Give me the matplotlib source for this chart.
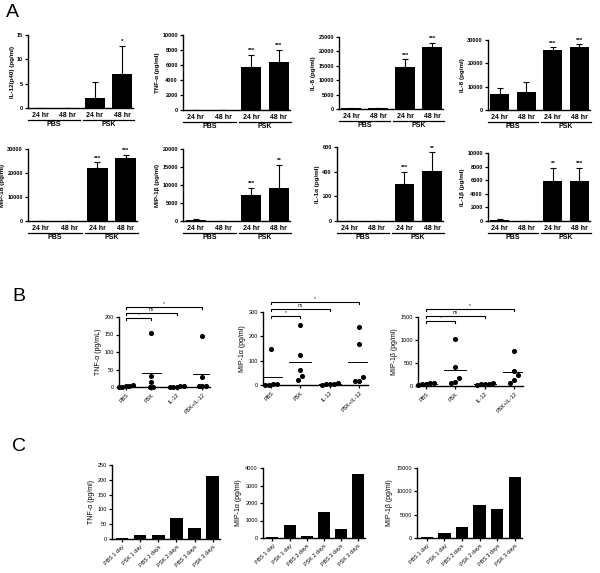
import numpy as np
import matplotlib
matplotlib.use("Agg")
import matplotlib.pyplot as plt
from matplotlib.transforms import blended_transform_factory, ScaledTranslation

plt.rcParams['font.family'] = ['Liberation Sans', 'DejaVu Sans']

# ---------------- data ----------------
# panel A: 24 hr / 48 hr for PBS and PSK
a_ticks = ['24 hr', '48 hr', '24 hr', '48 hr']
a_groups = ['PBS', 'PSK']

il12_mean = [0, 0, 2.1, 6.9]
il12_err = [0, 0, 3.3, 5.9]
tnf_mean = [30, 30, 5700, 6400]
tnf_err = [0, 0, 1650, 1650]
il6_mean = [200, 200, 14500, 21500]
il6_err = [0, 0, 2700, 1500]
il8_mean = [7000, 7900, 25700, 27200]
il8_err = [2600, 4300, 1300, 1000]
mip1a_mean = [50, 50, 22000, 26300]
mip1a_err = [0, 0, 2500, 1400]
mip1b_mean = [300, 100, 7200, 9100]
mip1b_err = [150, 0, 2100, 6500]
il1a_mean = [0, 0, 300, 405]
il1a_err = [0, 0, 100, 155]
il1b_mean = [150, 0, 5900, 5950]
il1b_err = [200, 0, 1950, 1900]

il12_sig = ['', '', '', '*']
tnf_sig = ['', '', '***', '***']
il6_sig = ['', '', '***', '***']
il8_sig = ['', '', '***', '***']
mip1a_sig = ['', '', '***', '***']
mip1b_sig = ['', '', '***', '**']
il1a_sig = ['', '', '***', '**']
il1b_sig = ['', '', '**', '***']

# panel B: individual values
b_groups = ['PBS', 'PSK', 'IL-12', 'PSK+IL-12']
b_pairs = [(0, 1), (0, 2), (0, 3)]
b_pair_labels = ['*', 'ns', '*']

b_tnf = [[0, 1, 2, 3, 5], [155, 32, 14, 1, 1], [0, 1, 1, 2, 3], [145, 30, 3, 2, 3]]
b_mip1a = [[150, 2, 3, 5, 2], [245, 122, 60, 35, 20], [3, 5, 8, 2, 6], [237, 168, 32, 18, 16]]
b_mip1b = [[60, 40, 50, 30, 70], [1020, 410, 170, 60, 90], [40, 50, 55, 30, 45],
           [770, 330, 230, 140, 60]]

# panel C: time course
c_labels = ['PBS 1 day', 'PSK 1 day', 'PBS 2 days', 'PSK 2 days', 'PBS 3 days', 'PSK 3 days']
c_tnf = [2, 14, 15, 70, 38, 212]
c_mip1a = [50, 750, 120, 1480, 500, 3680]
c_mip1b = [200, 1000, 2300, 7100, 6300, 13100]

W, H = 600, 573
fig = plt.figure(figsize=(6.0, 5.73), dpi=100)


def add_ax(l, t, r, b):
    ax = fig.add_axes([l / W, 1 - b / H, (r - l) / W, (b - t) / H])
    for s in ['top', 'right']:
        ax.spines[s].set_visible(False)
    for s in ['left', 'bottom']:
        ax.spines[s].set_linewidth(1.0)
    ax.tick_params(direction='out', length=2.5, width=0.9, labelsize=4, pad=1.2)
    return ax


def below(ax, px):
    return blended_transform_factory(ax.transData, ax.transAxes) + \
        ScaledTranslation(0, -px / 100, fig.dpi_scale_trans)


def panel_a(box, mean, err, sig, ylabel, ymax, step):
    ax = add_ax(*box)
    x = np.arange(4)
    ax.bar(x, mean, width=0.72, color='black')
    lower = np.zeros(4)
    ax.errorbar(x, mean, yerr=[lower, err], fmt='none', ecolor='black',
                elinewidth=0.8, capsize=2.5, capthick=0.8)
    for xi, m, e, s in zip(x, mean, err, sig):
        if s:
            ax.text(xi, m + e + ymax * 0.02, s, ha='center', va='bottom',
                    fontsize=4.5, fontweight='bold')
    ax.set_xlim(-0.45, 3.4)
    ax.set_ylim(0, ymax)
    ax.set_yticks(np.arange(0, ymax + 1e-9, step))
    ax.set_xticks([])
    ax.set_ylabel(ylabel, fontsize=4.5, fontweight='bold', labelpad=1.5)
    for lab in ax.get_yticklabels():
        lab.set_fontweight('bold')
    for xi, t in zip(x, a_ticks):
        ax.text(xi, 0, t, transform=below(ax, 4), ha='center', va='top',
                fontsize=5, fontweight='bold')
    for gi, g in enumerate(a_groups):
        x0, x1 = 2 * gi - 0.45, 2 * gi + 1.45
        ax.plot([x0, x1], [0, 0], transform=below(ax, 12), color='black',
                lw=0.9, clip_on=False)
        ax.text(2 * gi + 0.5, 0, g, transform=below(ax, 13), ha='center',
                va='top', fontsize=5, fontweight='bold')
    return ax


panel_a((28, 35, 133, 108), il12_mean, il12_err, il12_sig, 'IL-12(p40) (pg/ml)', 15, 5)
panel_a((183, 35, 290, 110), tnf_mean, tnf_err, tnf_sig, 'TNF-α (pg/ml)', 10000, 2000)
panel_a((339, 37, 443, 109), il6_mean, il6_err, il6_sig, 'IL-6 (pg/ml)', 25000, 5000)
panel_a((488, 40, 590, 110), il8_mean, il8_err, il8_sig, 'IL-8 (pg/ml)', 30000, 10000)
panel_a((28, 149, 137, 221), mip1a_mean, mip1a_err, mip1a_sig, 'MIP-1α (pg/ml)', 30000, 10000)
panel_a((183, 149, 290, 221), mip1b_mean, mip1b_err, mip1b_sig, 'MIP-1β (pg/ml)', 20000, 5000)
panel_a((337, 147, 443, 221), il1a_mean, il1a_err, il1a_sig, 'IL-1α (pg/ml)', 600, 200)
panel_a((488, 153, 590, 221), il1b_mean, il1b_err, il1b_sig, 'IL-1β (pg/ml)', 10000, 2000)


def spread(vals, tol):
    # horizontal offsets for points that sit close together
    vals = np.asarray(vals, float)
    order = np.argsort(vals)
    offs = np.zeros(len(vals))
    groups, cur = [], [order[0]]
    for i in order[1:]:
        if vals[i] - vals[cur[-1]] <= tol:
            cur.append(i)
        else:
            groups.append(cur)
            cur = [i]
    groups.append(cur)
    for g in groups:
        n = len(g)
        o = (np.arange(n) - (n - 1) / 2) * 0.14
        for k, i in enumerate(g):
            offs[i] = o[k]
    return offs


def panel_b(box, data, ylabel, ymax, step, brk):
    ax = add_ax(*box)
    for xi, vals in enumerate(data):
        offs = spread(vals, ymax * 0.06)
        ax.scatter(xi + offs, vals, s=7, color='black', zorder=3, clip_on=False)
        ax.plot([xi - 0.37, xi + 0.37], [np.mean(vals)] * 2, color='black', lw=0.7)
    ax.set_xlim(-0.27, 3.3)
    ax.set_ylim(0, ymax)
    ax.set_yticks(np.arange(0, ymax + 1e-9, step))
    ax.set_xticks(range(4))
    ax.set_xticklabels(b_groups, rotation=45, ha='right', rotation_mode='anchor')
    ax.set_ylabel(ylabel, fontsize=5, labelpad=2)
    for (i, j), lab, yb in zip(b_pairs, b_pair_labels, brk):
        d = ymax * 0.03
        ax.plot([i, i, j, j], [yb - d, yb, yb, yb - d], color='black', lw=0.8,
                clip_on=False)
        ax.text((i + j) / 2, yb + ymax * 0.01, lab, ha='center', va='bottom',
                fontsize=3.5)
    return ax


panel_b((119, 317, 210, 387), b_tnf, 'TNF-α (pg/mL)', 200, 50, [197, 211, 229])
panel_b((263, 312, 368, 385), b_mip1a, 'MIP-1α (pg/ml)', 300, 100, [284, 313, 342])
panel_b((418, 317, 523, 386), b_mip1b, 'MIP-1β (pg/ml)', 1500, 500, [1420, 1530, 1670])


def panel_c(box, vals, ylabel, ymax, step):
    ax = add_ax(*box)
    x = np.arange(len(vals))
    ax.bar(x, vals, width=0.7, color='black')
    ax.set_xlim(-0.55, 5.4)
    ax.set_ylim(0, ymax)
    ax.set_yticks(np.arange(0, ymax + 1e-9, step))
    ax.set_xticks(x)
    ax.set_xticklabels(c_labels, rotation=45, ha='right', rotation_mode='anchor')
    ax.set_ylabel(ylabel, fontsize=5, labelpad=2)
    return ax


panel_c((112, 465, 220, 539), c_tnf, 'TNF-α (pg/ml)', 250, 50)
panel_c((263, 468, 365, 538), c_mip1a, 'MIP-1α (pg/ml)', 4000, 1000)
panel_c((417, 468, 522, 538), c_mip1b, 'MIP-1β (pg/ml)', 15000, 5000)

for lab, (px, py) in zip(['A', 'B', 'C'], [(6, 4), (12, 288), (12, 438)]):
    fig.text(px / W, 1 - py / H, lab, fontsize=14, ha='left', va='top')

fig.savefig('out.png', dpi=100)
